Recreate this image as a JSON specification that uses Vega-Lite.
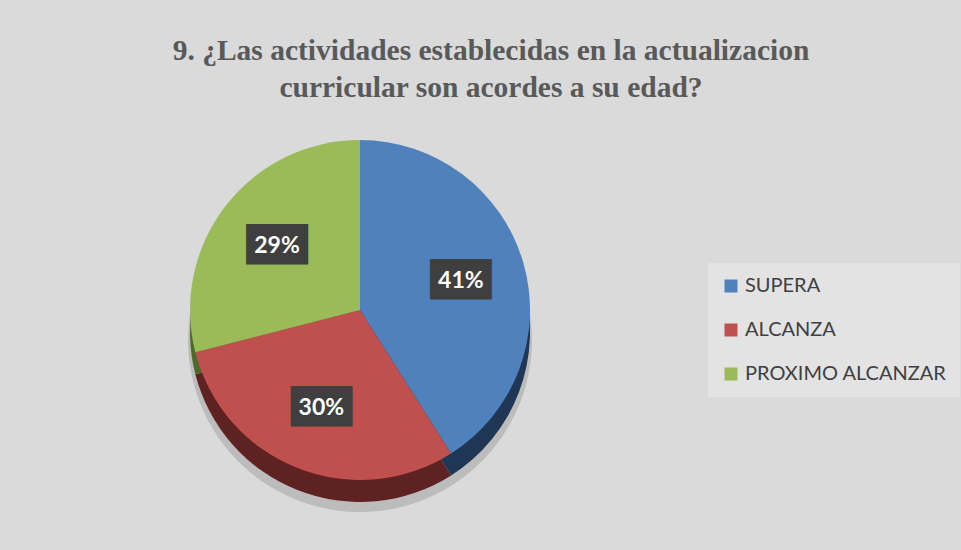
{
  "$schema": "https://vega.github.io/schema/vega-lite/v6.json",
  "width": 704,
  "height": 380,
  "autosize": {"type": "none"},
  "padding": {"left": 8, "top": 120, "right": 249, "bottom": 50},
  "background": "#dadada",
  "title": {
    "text": ["9. ¿Las actividades establecidas en la actualizacion", "curricular son acordes a su edad?"],
    "font": "Liberation Serif",
    "fontSize": 29.5,
    "fontWeight": "bold",
    "color": "#595959",
    "lineHeight": 37,
    "anchor": "middle",
    "dx": 131,
    "offset": 17
  },
  "data": {
    "values": [
      {"categoria": "SUPERA", "valor": 41, "orden": 1, "etiqueta": "41%"},
      {"categoria": "ALCANZA", "valor": 30, "orden": 2, "etiqueta": "30%"},
      {"categoria": "PROXIMO ALCANZAR", "valor": 29, "orden": 3, "etiqueta": "29%"}
    ]
  },
  "encoding": {
    "theta": {"field": "valor", "type": "quantitative", "stack": true},
    "order": {"field": "orden", "type": "quantitative"}
  },
  "layer": [
    {
      "mark": {"type": "arc", "outerRadius": 172, "yOffset": 30, "fill": "#a8a8a8", "opacity": 0.6}
    },
    {
      "mark": {"type": "arc", "outerRadius": 170, "yOffset": 22},
      "encoding": {
        "fill": {
          "field": "categoria",
          "type": "nominal",
          "scale": {"domain": ["SUPERA", "ALCANZA", "PROXIMO ALCANZAR"], "range": ["#1f3655", "#5e2222", "#4d6a2a"]},
          "legend": null
        }
      }
    },
    {
      "mark": {"type": "arc", "outerRadius": 170},
      "encoding": {
        "color": {
          "field": "categoria",
          "type": "nominal",
          "scale": {"domain": ["SUPERA", "ALCANZA", "PROXIMO ALCANZAR"], "range": ["#4f81bd", "#c0504d", "#9bbb59"]},
          "legend": {
            "title": null,
            "orient": "none",
            "legendX": 700,
            "legendY": 143,
            "fillColor": "#e3e3e3",
            "padding": 13,
            "symbolType": "square",
            "symbolSize": 169,
            "symbolStrokeWidth": 0,
            "labelFont": "Lato",
            "labelFontSize": 20,
            "labelColor": "#404040",
            "labelOffset": 4,
            "rowPadding": 24,
            "labelLimit": 300
          }
        }
      }
    },
    {
      "mark": {"type": "text", "radius": 105, "font": "DejaVu Sans Mono", "fontSize": 34, "fill": "#3f3f3f", "baseline": "middle", "align": "center"},
      "encoding": {"text": {"value": "███"}}
    },
    {
      "mark": {"type": "text", "radius": 105, "font": "Lato", "fontSize": 23, "fontWeight": "bold", "fill": "white", "baseline": "middle", "align": "center"},
      "encoding": {"text": {"field": "etiqueta", "type": "nominal"}}
    }
  ],
  "resolve": {"scale": {"color": "independent", "fill": "independent"}},
  "config": {"view": {"stroke": null}}
}
